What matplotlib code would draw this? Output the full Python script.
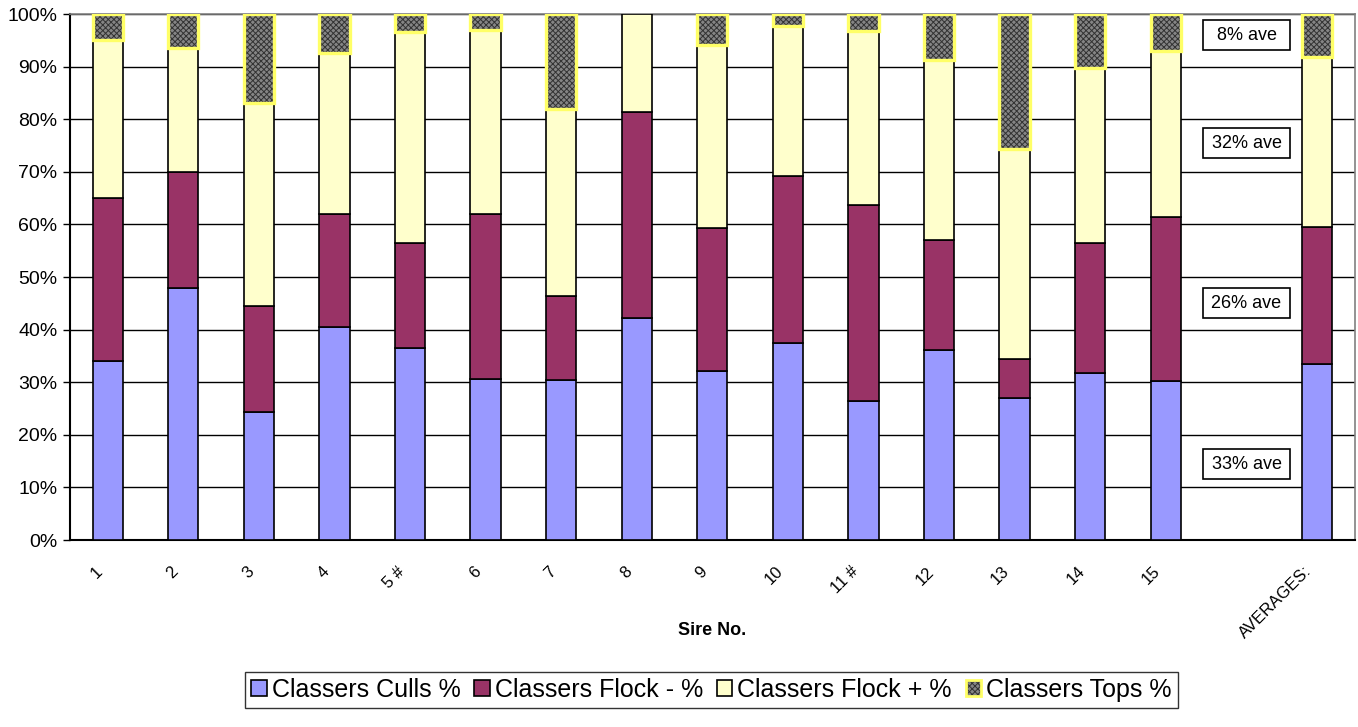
import matplotlib.pyplot as plt
from matplotlib.patches import Patch, Rectangle
from matplotlib.legend_handler import HandlerTuple
import numpy as np

plt.rcParams['font.family'] = ['Liberation Sans', 'DejaVu Sans']
plt.rcParams['hatch.linewidth'] = 0.7

sires = ['1', '2', '3', '4', '5 #', '6', '7', '8', '9', '10', '11 #', '12', '13', '14', '15', '', 'AVERAGES:']
# percentages per sire (blank slot has no bar)
culls   = [34.0, 48.0, 24.3, 40.5, 36.5, 30.7, 30.5, 42.3, 32.2, 37.5, 26.5, 36.2, 27.0, 31.7, 30.2, 0, 33.4]
flock_m = [31.0, 22.0, 20.2, 21.5, 20.0, 31.3, 15.8, 39.0, 27.1, 31.7, 37.2, 20.8, 7.5, 24.8, 31.3, 0, 26.1]
flock_p = [30.0, 23.5, 38.5, 30.5, 40.0, 35.0, 35.7, 18.7, 34.9, 28.6, 33.1, 34.3, 39.8, 33.3, 31.5, 0, 32.3]
tops    = [5.0, 6.5, 17.0, 7.5, 3.5, 3.0, 18.0, 0.0, 5.8, 2.2, 3.2, 8.7, 25.7, 10.2, 7.0, 0, 8.2]

ave_labels = ['8% ave', '32% ave', '26% ave', '33% ave']
ave_y = [96.0, 75.4, 45.0, 14.4]

c_culls = '#9999FF'
c_fm = '#993366'
c_fp = '#FFFFCC'
c_top_edge = '#FFFF66'
c_hatch_face = '#858585'
c_hatch = '#333333'

fig = plt.figure(figsize=(13.58, 7.27), dpi=100)
ax = fig.add_axes([0.0515, 0.2572, 0.946, 0.7235])

x = np.arange(len(sires))
keep = np.array([s != '' for s in sires])
xk = x[keep]
cu = np.array(culls)[keep]
fm = np.array(flock_m)[keep]
fp = np.array(flock_p)[keep]
tp = np.array(tops)[keep]
w = 0.4

ax.bar(xk, cu, w, color=c_culls, edgecolor='black', linewidth=1.2, zorder=3)
ax.bar(xk, fm, w, bottom=cu, color=c_fm, edgecolor='black', linewidth=1.2, zorder=3)
ax.bar(xk, fp, w, bottom=cu + fm, color=c_fp, edgecolor='black', linewidth=1.2, zorder=3)
has_top = tp > 0
ax.bar(xk[has_top], tp[has_top], w, bottom=(cu + fm + fp)[has_top], color=c_hatch_face,
       edgecolor=c_hatch, hatch='xxxxxx', linewidth=0, zorder=3)
ax.bar(xk[has_top], tp[has_top], w, bottom=(cu + fm + fp)[has_top], facecolor='none',
       edgecolor=c_top_edge, linewidth=2.4, zorder=4)

# "ave" note boxes in the blank slot
bw, bh = 1.16, 5.7
for lab, yy in zip(ave_labels, ave_y):
    ax.add_patch(Rectangle((15.07 - bw / 2, yy - bh / 2), bw, bh, facecolor='white',
                           edgecolor='black', linewidth=1.2, zorder=5))
    ax.text(15.07, yy, lab, ha='center', va='center', fontsize=13, zorder=6)

ax.set_xlim(-0.5, len(sires) - 0.5)
ax.set_ylim(0, 100)
ax.set_yticks(np.arange(0, 101, 10))
ax.set_yticklabels([f'{v}%' for v in range(0, 101, 10)], fontsize=14)
# labels sit a little left of the bar centres, as in the original
ax.set_xticks(x - 0.1)
ax.set_xticklabels(sires, rotation=45, ha='right', va='center', rotation_mode='anchor', fontsize=12)
ax.tick_params(axis='x', length=0, pad=21)
ax.tick_params(axis='y', length=5, width=1, direction='out', pad=4)
ax.yaxis.grid(True, color='black', linewidth=1)
ax.set_axisbelow(True)
for s in ['top', 'right']:
    ax.spines[s].set_color('#808080')
    ax.spines[s].set_linewidth(1.2)
for s in ['left', 'bottom']:
    ax.spines[s].set_color('black')
    ax.spines[s].set_linewidth(1.5)

ax.set_xlabel('Sire No.', fontsize=13, fontweight='bold')
ax.xaxis.set_label_coords(0.5, -0.155)

h1 = Patch(facecolor=c_culls, edgecolor='black', linewidth=1.2)
h2 = Patch(facecolor=c_fm, edgecolor='black', linewidth=1.2)
h3 = Patch(facecolor=c_fp, edgecolor='black', linewidth=1.2)
h4a = Patch(facecolor=c_hatch_face, edgecolor=c_hatch, hatch='xxxxxx', linewidth=0)
h4b = Patch(facecolor='none', edgecolor=c_top_edge, linewidth=2)
leg = fig.legend([h1, h2, h3, (h4a, h4b)],
                 ['Classers Culls %', 'Classers Flock - %', 'Classers Flock + %', 'Classers Tops %'],
                 handler_map={tuple: HandlerTuple(ndivide=1, pad=0)},
                 loc='center', bbox_to_anchor=(0.524, 0.051), ncol=4, fontsize=18,
                 frameon=True, fancybox=False, edgecolor='black', handlelength=0.62,
                 handleheight=0.62, handletextpad=0.2, columnspacing=0.55, borderpad=0.25,
                 borderaxespad=0)
leg.get_frame().set_linewidth(1)

fig.savefig('out.png', dpi=100)
